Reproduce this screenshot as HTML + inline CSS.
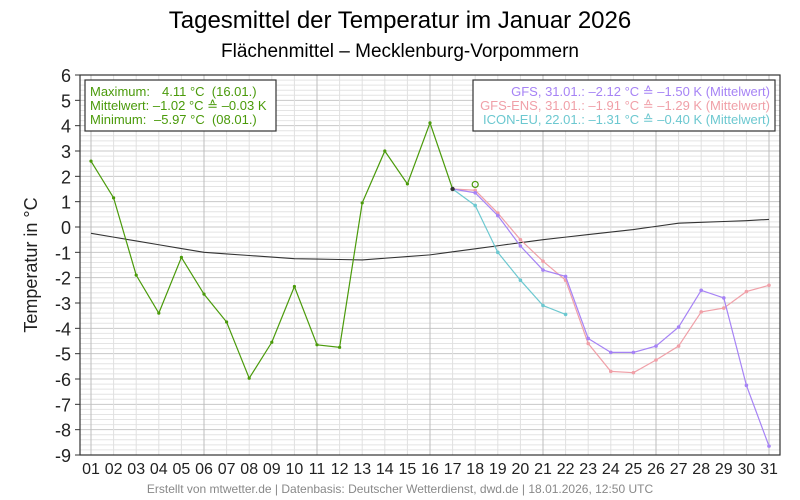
<!DOCTYPE html>
<html><head><meta charset="utf-8"><style>
html,body{margin:0;padding:0;background:#fff;}
svg{display:block;font-family:"Liberation Sans",sans-serif;}
text{white-space:pre;}
</style></head><body>
<svg id="s" width="800" height="500" xmlns="http://www.w3.org/2000/svg" xml:space="preserve">
<rect width="800" height="500" fill="#fff"/>
<text x="400" y="28" font-size="24" text-anchor="middle" fill="#000">Tagesmittel der Temperatur im Januar 2026</text>
<text x="400" y="57" font-size="19" text-anchor="middle" fill="#000">Flächenmittel – Mecklenburg-Vorpommern</text>
<text transform="translate(37,265) rotate(-90)" font-size="18" text-anchor="middle" fill="#222">Temperatur in °C</text>
<text x="400" y="493" font-size="12" text-anchor="middle" fill="#888">Erstellt von mtwetter.de | Datenbasis: Deutscher Wetterdienst, dwd.de | 18.01.2026, 12:50 UTC</text>
<g id="g"></g>
<g id="series"></g>
<rect x="85" y="80" width="191" height="51" fill="#fff" stroke="#333" stroke-width="1.2"/>
<g font-size="13" fill="#4a9a0a">
<text x="90" y="96">Maximum:</text><text x="162" y="96">4.11 °C  (16.01.)</text>
<text x="90" y="110">Mittelwert: –1.02 °C ≙ –0.03 K</text>
<text x="90" y="124">Minimum:</text><text x="154" y="124">–5.97 °C  (08.01.)</text>
</g>
<rect x="473" y="80" width="302" height="51" fill="#fff" stroke="#333" stroke-width="1.2"/>
<g font-size="13" text-anchor="end">
<text x="770" y="96" fill="#a683f5">GFS, 31.01.: –2.12 °C ≙ –1.50 K (Mittelwert)</text>
<text x="770" y="110" fill="#f0a0a8">GFS-ENS, 31.01.: –1.91 °C ≙ –1.29 K (Mittelwert)</text>
<text x="770" y="124" fill="#6cc8d0">ICON-EU, 22.01.: –1.31 °C ≙ –0.40 K (Mittelwert)</text>
</g>
</svg>
<script>
var NS="http://www.w3.org/2000/svg";
var L=80,R=780,T=75,B=455;
function X(d){return 91+(d-1)*22.6;}
function Y(v){return T+(6-v)*(B-T)/15;}
function el(p,t,a,txt){var e=document.createElementNS(NS,t);for(var k in a)e.setAttribute(k,a[k]);if(txt!==undefined)e.textContent=txt;p.appendChild(e);return e;}
var g=document.getElementById('g');
for(var i=0;i<=75;i++){var v=-9+i*0.2;var y=Y(v);
 var major=Math.abs(v-Math.round(v))<1e-6;
 if(!major)el(g,'line',{x1:L,x2:R,y1:y,y2:y,stroke:'#e4e4e4','stroke-width':1});}
for(var v=-9;v<=6;v++){var y=Y(v);
 el(g,'line',{x1:L,x2:R,y1:y,y2:y,stroke:'#c8c8c8','stroke-width':1});
 el(g,'line',{x1:L-5,x2:L,y1:y,y2:y,stroke:'#333','stroke-width':1});
 el(g,'text',{x:71,y:y+7,'font-size':18,'text-anchor':'end',fill:'#222'},String(v));}
for(var d=1;d<=31;d++){var x=X(d);var maj=(d-1)%5==0;
 el(g,'line',{x1:x,x2:x,y1:T,y2:B,stroke:maj?'#bdbdbd':'#e0e0e0','stroke-width':1});
 el(g,'text',{x:x,y:474,'font-size':16,'text-anchor':'middle',fill:'#222'},(d<10?'0':'')+d);}
el(g,'rect',{x:L,y:T,width:R-L,height:B-T,fill:'none',stroke:'#333','stroke-width':1.2});
var s=document.getElementById('series');
function line(arr,start,col,w,dots,r){var pts=arr.map(function(v,i){return X(start+i)+','+Y(v)}).join(' ');
 el(s,'polyline',{points:pts,fill:'none',stroke:col,'stroke-width':w});
 if(dots)arr.forEach(function(v,i){el(s,'circle',{cx:X(start+i),cy:Y(v),r:r,fill:col});});}
var clim=[];var ck={1:-0.25,6:-1.0,10:-1.25,13:-1.3,16:-1.1,21:-0.5,25:-0.1,27:0.15,30:0.25,31:0.3};
var keys=Object.keys(ck).map(Number);
for(var d=1;d<=31;d++){for(var j=0;j<keys.length-1;j++){if(d>=keys[j]&&d<=keys[j+1]){var a=keys[j],b=keys[j+1];clim.push(ck[a]+(ck[b]-ck[a])*(d-a)/(b-a));break;}}}
line(clim,1,'#333',1.1,false);
line([1.5,0.85,-1.0,-2.1,-3.1,-3.45],17,'#6cc8d0',1.2,true,1.8);
line([1.5,1.45,0.55,-0.5,-1.35,-2.1,-4.6,-5.7,-5.75,-5.25,-4.7,-3.35,-3.2,-2.55,-2.3],17,'#f0a0a8',1.2,true,1.8);
line([1.5,1.35,0.45,-0.75,-1.7,-1.95,-4.4,-4.95,-4.95,-4.7,-3.95,-2.5,-2.8,-6.25,-8.65],17,'#a683f5',1.2,true,1.8);
line([2.6,1.15,-1.9,-3.4,-1.2,-2.65,-3.75,-5.97,-4.55,-2.35,-4.65,-4.75,0.95,3.0,1.7,4.11,1.5],1,'#4a9a0a',1.2,true,1.6);
el(s,'circle',{cx:X(17),cy:Y(1.5),r:2.2,fill:'#333'});
el(s,'circle',{cx:X(18),cy:Y(1.68),r:3,fill:'none',stroke:'#4a9a0a','stroke-width':1.2});
</script>
</body></html>
